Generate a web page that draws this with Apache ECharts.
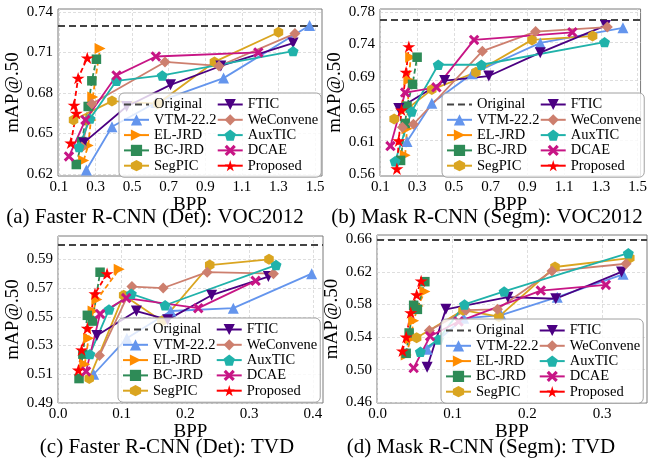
<!DOCTYPE html>
<html><head><meta charset="utf-8">
<script src="https://cdn.jsdelivr.net/npm/echarts@6/dist/echarts.min.js"></script>
<style>html,body{margin:0;padding:0;background:#fff}#c{width:650px;height:462px}</style>
</head><body><div id="c"></div>
<script>
const seriesNames = ['Original','VTM-22.2','EL-JRD','BC-JRD','SegPIC','FTIC','WeConvene','AuxTIC','DCAE','Proposed'];
const methods = ['VTM-22.2','EL-JRD','BC-JRD','SegPIC','FTIC','WeConvene','AuxTIC','DCAE','Proposed'];
const captions = ['(a) Faster R-CNN (Det): VOC2012','(b) Mask R-CNN (Segm): VOC2012','(c) Faster R-CNN (Det): TVD','(d) Mask R-CNN (Segm): TVD'];
const originalMAP = [0.7338, 0.7658, 0.6018, 0.6563];
const xAxisTitle = 'BPP';
const yAxisTitle = 'mAP@.50';

// (a) Faster R-CNN (Det): VOC2012  [bpp, mAP]
const a_VTM = [[0.25,0.623],[0.39,0.655],[0.63,0.673],[1.0,0.691],[1.47,0.730]];
const a_ELJRD = [[0.235,0.630],[0.26,0.641],[0.275,0.660],[0.285,0.677],[0.325,0.713]];
const a_BCJRD = [[0.195,0.627],[0.225,0.644],[0.26,0.670],[0.28,0.689],[0.305,0.705]];
const a_SegPIC = [[0.18,0.660],[0.39,0.674],[0.64,0.672],[0.95,0.703],[1.30,0.725]];
const a_FTIC = [[0.235,0.643],[0.47,0.670],[0.71,0.686],[0.985,0.700],[1.38,0.717]];
const a_WeConvene = [[0.225,0.640],[0.28,0.672],[0.68,0.703],[0.975,0.700],[1.39,0.724]];
const a_AuxTIC = [[0.21,0.640],[0.27,0.661],[0.415,0.689],[0.665,0.693],[1.38,0.711]];
const a_DCAE = [[0.155,0.633],[0.245,0.660],[0.415,0.693],[0.63,0.707],[1.19,0.710]];
const a_Proposed = [[0.165,0.643],[0.195,0.665],[0.183,0.671],[0.205,0.691],[0.255,0.706]];
const a_xRange = [0.095, 1.538];
const a_yRange = [0.6185, 0.7422];
const a_xTicks = [0.1,0.3,0.5,0.7,0.9,1.1,1.3,1.5];
const a_xTickLabels = ['0.1','0.3','0.5','0.7','0.9','1.1','1.3','1.5'];
const a_yTicks = [0.62,0.65,0.68,0.71,0.74];
const a_yTickLabels = ['0.62','0.65','0.68','0.71','0.74'];

// (b) Mask R-CNN (Segm): VOC2012
const b_VTM = [[0.245,0.608],[0.38,0.659],[0.60,0.698],[0.97,0.739],[1.42,0.759]];
const b_ELJRD = [[0.235,0.590],[0.245,0.625],[0.25,0.655],[0.255,0.690],[0.265,0.720]];
const b_BCJRD = [[0.21,0.583],[0.235,0.632],[0.245,0.655],[0.275,0.684],[0.30,0.720]];
const b_SegPIC = [[0.175,0.638],[0.38,0.677],[0.62,0.700],[0.925,0.743],[1.255,0.748]];
const b_FTIC = [[0.20,0.652],[0.45,0.689],[0.69,0.695],[0.97,0.726],[1.325,0.762]];
const b_WeConvene = [[0.22,0.627],[0.28,0.631],[0.655,0.728],[0.945,0.754],[1.335,0.760]];
const b_AuxTIC = [[0.18,0.582],[0.27,0.648],[0.415,0.710],[0.65,0.710],[1.32,0.740]];
const b_DCAE = [[0.155,0.602],[0.235,0.673],[0.405,0.680],[0.61,0.743],[1.145,0.753]];
const b_Proposed = [[0.19,0.572],[0.20,0.609],[0.215,0.650],[0.24,0.700],[0.255,0.734]];
const b_xRange = [0.098, 1.516];
const b_yRange = [0.5623, 0.784];
const b_xTicks = [0.1,0.3,0.5,0.7,0.9,1.1,1.3,1.5];
const b_xTickLabels = ['0.1','0.3','0.5','0.7','0.9','1.1','1.3','1.5'];
const b_yTicks = [0.565,0.608,0.651,0.694,0.737,0.78];
const b_yTickLabels = ['0.56','0.61','0.65','0.69','0.74','0.78'];

// (c) Faster R-CNN (Det): TVD
const c_VTM = [[0.056,0.510],[0.108,0.535],[0.177,0.554],[0.275,0.556],[0.398,0.580]];
const c_ELJRD = [[0.042,0.517],[0.048,0.535],[0.055,0.554],[0.061,0.562],[0.096,0.583]];
const c_BCJRD = [[0.033,0.507],[0.039,0.524],[0.046,0.551],[0.054,0.547],[0.066,0.581]];
const c_SegPIC = [[0.049,0.507],[0.103,0.565],[0.163,0.547],[0.238,0.586],[0.331,0.590]];
const c_FTIC = [[0.061,0.537],[0.123,0.554],[0.172,0.548],[0.241,0.565],[0.330,0.578]];
const c_WeConvene = [[0.065,0.523],[0.116,0.571],[0.165,0.570],[0.234,0.581],[0.338,0.580]];
const c_AuxTIC = [[0.050,0.524],[0.080,0.555],[0.115,0.566],[0.168,0.558],[0.342,0.586]];
const c_DCAE = [[0.044,0.512],[0.066,0.552],[0.107,0.563],[0.220,0.556],[0.310,0.575]];
const c_Proposed = [[0.032,0.513],[0.037,0.527],[0.046,0.542],[0.058,0.566],[0.077,0.580]];
const c_xRange = [0, 0.4157];
const c_yRange = [0.49, 0.6062];
const c_xTicks = [0.0,0.1,0.2,0.3,0.4];
const c_xTickLabels = ['0.0','0.1','0.2','0.3','0.4'];
const c_yTicks = [0.49,0.51,0.53,0.55,0.57,0.59];
const c_yTickLabels = ['0.49','0.51','0.53','0.55','0.57','0.59'];

// (d) Mask R-CNN (Segm): TVD
const d_VTM = [[0.066,0.525],[0.115,0.563],[0.165,0.567],[0.240,0.589],[0.328,0.617]];
const d_ELJRD = [[0.038,0.518],[0.044,0.538],[0.048,0.560],[0.054,0.578],[0.063,0.596]];
const d_BCJRD = [[0.038,0.520],[0.042,0.545],[0.048,0.579],[0.053,0.574],[0.063,0.608]];
const d_SegPIC = [[0.052,0.539],[0.114,0.573],[0.162,0.565],[0.237,0.626],[0.337,0.637]];
const d_FTIC = [[0.066,0.503],[0.091,0.574],[0.174,0.589],[0.238,0.587],[0.326,0.620]];
const d_WeConvene = [[0.069,0.548],[0.118,0.573],[0.160,0.574],[0.233,0.621],[0.332,0.630]];
const d_AuxTIC = [[0.057,0.522],[0.081,0.537],[0.116,0.580],[0.169,0.596],[0.335,0.643]];
const d_DCAE = [[0.048,0.502],[0.070,0.541],[0.108,0.559],[0.218,0.597],[0.305,0.604]];
const d_Proposed = [[0.033,0.523],[0.038,0.540],[0.044,0.570],[0.052,0.592],[0.058,0.609]];
const d_xRange = [-0.001, 0.36];
const d_yRange = [0.459, 0.6653];
const d_xTicks = [0.0,0.1,0.2,0.3];
const d_xTickLabels = ['0.0','0.1','0.2','0.3'];
const d_yTicks = [0.46,0.50,0.54,0.58,0.62,0.66];
const d_yTickLabels = ['0.46','0.50','0.54','0.58','0.62','0.66'];

const FONT = 'Liberation Serif';
const TRI_DOWN = 'path://M0,0L10,0L5,10Z';
const TRI_RIGHT = 'path://M0,0L10,5L0,10Z';
const HEX = 'path://M5,0L9.33,2.5L9.33,7.5L5,10L0.67,7.5L0.67,2.5Z';
const PENT = 'path://M5,0L9.755,3.455L7.939,9.045L2.061,9.045L0.245,3.455Z';
const XSYM = 'path://M2,0L5,3L8,0L10,2L7,5L10,8L8,10L5,7L2,10L0,8L3,5L0,2Z';
const STAR = 'path://M5,0L6.117,3.463L9.755,3.455L6.807,5.587L7.939,9.045L5,6.9L2.061,9.045L3.193,5.587L0.245,3.455L3.883,3.463Z';
const styles = {
  'VTM-22.2': {color:'#6495ED', symbol:'triangle', size:11, dash:false},
  'EL-JRD': {color:'#FF8C00', symbol:TRI_RIGHT, size:11, dash:true},
  'BC-JRD': {color:'#2E8B57', symbol:'rect', size:9.5, dash:true},
  'SegPIC': {color:'#DAA520', symbol:HEX, size:11, dash:false},
  'FTIC': {color:'#4B0082', symbol:TRI_DOWN, size:11, dash:false},
  'WeConvene': {color:'#CD7F6E', symbol:'diamond', size:11, dash:false},
  'AuxTIC': {color:'#20B2AA', symbol:PENT, size:11, dash:false},
  'DCAE': {color:'#C71585', symbol:XSYM, size:10.5, dash:false},
  'Proposed': {color:'#FF0000', symbol:STAR, size:13, dash:true}
};

const panels = [
  {grid:{left:58,top:9,width:264,height:167}, xRange:a_xRange, yRange:a_yRange, xTicks:a_xTicks, xLabels:a_xTickLabels, yTicks:a_yTicks, yLabels:a_yTickLabels,
   data:{'VTM-22.2':a_VTM,'EL-JRD':a_ELJRD,'BC-JRD':a_BCJRD,'SegPIC':a_SegPIC,'FTIC':a_FTIC,'WeConvene':a_WeConvene,'AuxTIC':a_AuxTIC,'DCAE':a_DCAE,'Proposed':a_Proposed},
   legend:{left:119,top:93}, caption:{x:155,y:217}, yNameGap:27, xNameGap:15},
  {grid:{left:380,top:9,width:268,height:167}, xRange:b_xRange, yRange:b_yRange, xTicks:b_xTicks, xLabels:b_xTickLabels, yTicks:b_yTicks, yLabels:b_yTickLabels,
   data:{'VTM-22.2':b_VTM,'EL-JRD':b_ELJRD,'BC-JRD':b_BCJRD,'SegPIC':b_SegPIC,'FTIC':b_FTIC,'WeConvene':b_WeConvene,'AuxTIC':b_AuxTIC,'DCAE':b_DCAE,'Proposed':b_Proposed},
   legend:{left:442,top:93}, caption:{x:487,y:217}, yNameGap:27, xNameGap:15},
  {grid:{left:58,top:236,width:265,height:167}, xRange:c_xRange, yRange:c_yRange, xTicks:c_xTicks, xLabels:c_xTickLabels, yTicks:c_yTicks, yLabels:c_yTickLabels,
   data:{'VTM-22.2':c_VTM,'EL-JRD':c_ELJRD,'BC-JRD':c_BCJRD,'SegPIC':c_SegPIC,'FTIC':c_FTIC,'WeConvene':c_WeConvene,'AuxTIC':c_AuxTIC,'DCAE':c_DCAE,'Proposed':c_Proposed},
   legend:{left:118,top:318}, caption:{x:167,y:447}, yNameGap:28, xNameGap:12},
  {grid:{left:377,top:235,width:270,height:168}, xRange:d_xRange, yRange:d_yRange, xTicks:d_xTicks, xLabels:d_xTickLabels, yTicks:d_yTicks, yLabels:d_yTickLabels,
   data:{'VTM-22.2':d_VTM,'EL-JRD':d_ELJRD,'BC-JRD':d_BCJRD,'SegPIC':d_SegPIC,'FTIC':d_FTIC,'WeConvene':d_WeConvene,'AuxTIC':d_AuxTIC,'DCAE':d_DCAE,'Proposed':d_Proposed},
   legend:{left:441,top:319}, caption:{x:481,y:447}, yNameGap:25, xNameGap:10}
];

function labelFor(ticks, labels){
  return function(v){
    for (let k = 0; k < ticks.length; k++) if (Math.abs(ticks[k]-v) < 1e-9) return labels[k];
    return '';
  };
}

const gridLineStyle = {color:'#d6d6d6', width:0.8, type:[3,2]};
const origLineStyle = {color:'#444444', width:2, type:[7,4]};
const grids = [], xAxes = [], yAxes = [], series = [], legends = [], graphics = [];

const legendData = seriesNames.map(n => n === 'Original'
  ? {name:n, itemStyle:{color:'rgba(0,0,0,0)', borderWidth:0, opacity:0}}
  : {name:n, lineStyle:{type:'solid'}});

panels.forEach((p, i) => {
  grids.push(Object.assign({show:true, borderColor:'#7a7a7a', borderWidth:1, backgroundColor:'#fff', containLabel:false}, p.grid));
  xAxes.push({type:'value', gridIndex:i, min:p.xRange[0], max:p.xRange[1],
    axisLine:{show:false}, axisTick:{show:false}, splitLine:{show:false},
    axisLabel:{customValues:p.xTicks, formatter:labelFor(p.xTicks,p.xLabels), fontFamily:FONT, fontSize:15, color:'#000', margin:4},
    name:xAxisTitle, nameLocation:'middle', nameGap:p.xNameGap, nameTextStyle:{fontFamily:FONT, fontSize:19, color:'#000'}});
  yAxes.push({type:'value', gridIndex:i, min:p.yRange[0], max:p.yRange[1],
    axisLine:{show:false}, axisTick:{show:false}, splitLine:{show:false},
    axisLabel:{customValues:p.yTicks, formatter:labelFor(p.yTicks,p.yLabels), fontFamily:FONT, fontSize:15, color:'#000', margin:5},
    name:yAxisTitle, nameLocation:'middle', nameGap:p.yNameGap, nameTextStyle:{fontFamily:FONT, fontSize:19, color:'#000'}});
  const ml = [];
  p.xTicks.forEach(v => ml.push({xAxis:v, lineStyle:gridLineStyle}));
  p.yTicks.forEach(v => ml.push({yAxis:v, lineStyle:gridLineStyle}));
  ml.push({yAxis:originalMAP[i], lineStyle:origLineStyle});
  series.push({type:'line', name:'Original', xAxisIndex:i, yAxisIndex:i, data:[], symbol:'none',
    lineStyle:origLineStyle, itemStyle:{color:'#444444'}, z:2, silent:true,
    markLine:{silent:true, z:1, symbol:['none','none'], label:{show:false}, animation:false, emphasis:{disabled:true}, data:ml}});
  methods.forEach(name => {
    const s = styles[name];
    series.push({type:'line', name:name, xAxisIndex:i, yAxisIndex:i, data:p.data[name],
      symbol:s.symbol, symbolSize:s.size, symbolKeepAspect:true, showSymbol:true, showAllSymbol:true,
      lineStyle:{color:s.color, width:1.8, type:s.dash ? [5,3] : 'solid'},
      itemStyle:{color:s.color}, z:3, silent:true, clip:false});
  });
  legends.push({type:'plain', orient:'vertical', left:p.legend.left, top:p.legend.top, height:77,
    data:legendData, selectedMode:false, itemWidth:25, itemHeight:14, itemGap:0.3,
    padding:[4,3,4,4], backgroundColor:'rgba(255,255,255,0.8)', borderColor:'#a0a0a0', borderWidth:1, borderRadius:5,
    textStyle:{fontFamily:FONT, fontSize:14.5, color:'#000', lineHeight:15}});
  graphics.push({type:'text', x:p.caption.x, y:p.caption.y,
    style:{text:captions[i], font:'21px "Liberation Serif"', fill:'#000', align:'center', verticalAlign:'middle'}});
});

const chart = echarts.init(document.getElementById('c'), null, {renderer:'canvas', width:650, height:462});
chart.setOption({
  animation:false,
  textStyle:{fontFamily:FONT},
  grid:grids, xAxis:xAxes, yAxis:yAxes, series:series, legend:legends, graphic:graphics
});
</script></body></html>
